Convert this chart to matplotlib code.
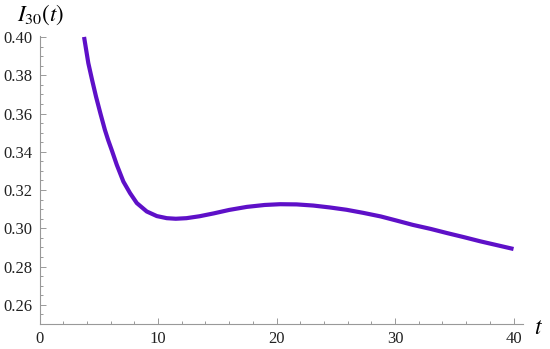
import matplotlib
matplotlib.use("Agg")
import matplotlib.pyplot as plt
from matplotlib.ticker import MultipleLocator, FormatStrFormatter

# values
t = [3.76, 4.12, 4.45, 4.77, 5.15, 5.52, 5.80, 6.10, 6.52, 7.08, 7.64,
     8.21, 9.05, 9.90, 10.74, 11.5, 12.4, 13.5, 14.7, 16.0, 17.5, 19.0,
     20.3, 21.7, 23.1, 24.5, 25.9, 27.3, 28.8, 30.1, 31.5, 33.0, 34.4,
     35.8, 37.2, 38.6, 40.0]
I30 = [0.400, 0.3863, 0.3772, 0.3688, 0.3598, 0.3514, 0.3460, 0.3408,
       0.3332, 0.3244, 0.3184, 0.3132, 0.3088, 0.3064, 0.3053, 0.3050,
       0.3053, 0.3063, 0.3078, 0.3096, 0.3112, 0.3122, 0.3126, 0.3125,
       0.3119, 0.3109, 0.3097, 0.3081, 0.3062, 0.3041, 0.3018, 0.2997,
       0.2975, 0.2954, 0.2932, 0.2912, 0.2892]

plt.rcParams['mathtext.fontset'] = 'stix'
plt.rcParams['font.family'] = 'Liberation Serif'

fig = plt.figure(figsize=(5.5, 3.49), dpi=100)
ax = fig.add_axes([39.5 / 550, 1 - 324 / 349, (523 - 39.5) / 550, (324 - 36) / 349])

ax.plot(t, I30, color='#5E10C8', lw=3.0, solid_capstyle='butt',
        solid_joinstyle='round')

ax.set_xlim(0, 40.8)
ax.set_ylim(0.25, 0.4005)

for s in ['top', 'right']:
    ax.spines[s].set_visible(False)
for s in ['left', 'bottom']:
    ax.spines[s].set_color('#999999')
    ax.spines[s].set_linewidth(0.8)

ax.xaxis.set_major_locator(MultipleLocator(10))
ax.xaxis.set_minor_locator(MultipleLocator(2))
ax.yaxis.set_major_locator(MultipleLocator(0.02))
ax.yaxis.set_minor_locator(MultipleLocator(0.005))
ax.yaxis.set_major_formatter(FormatStrFormatter('%.2f'))
ax.set_yticks([0.26, 0.28, 0.30, 0.32, 0.34, 0.36, 0.38, 0.40])

ax.tick_params(which='both', direction='in', color='#999999', width=0.7,
               labelsize=12, labelcolor='#222222')
ax.tick_params(which='major', length=4)
ax.tick_params(which='minor', length=2.2)
ax.tick_params(axis='x', which='major', pad=5)
ax.tick_params(axis='y', which='major', pad=5)

fig.text(17 / 550, 1 - 15 / 349, r'$I_{\mathit{30}}(t)$', fontsize=16.5,
         ha='left', va='center')
fig.text(539 / 550, 1 - 328 / 349, r'$t$', fontsize=17, ha='center', va='center')

fig.savefig('out.png', dpi=100)
